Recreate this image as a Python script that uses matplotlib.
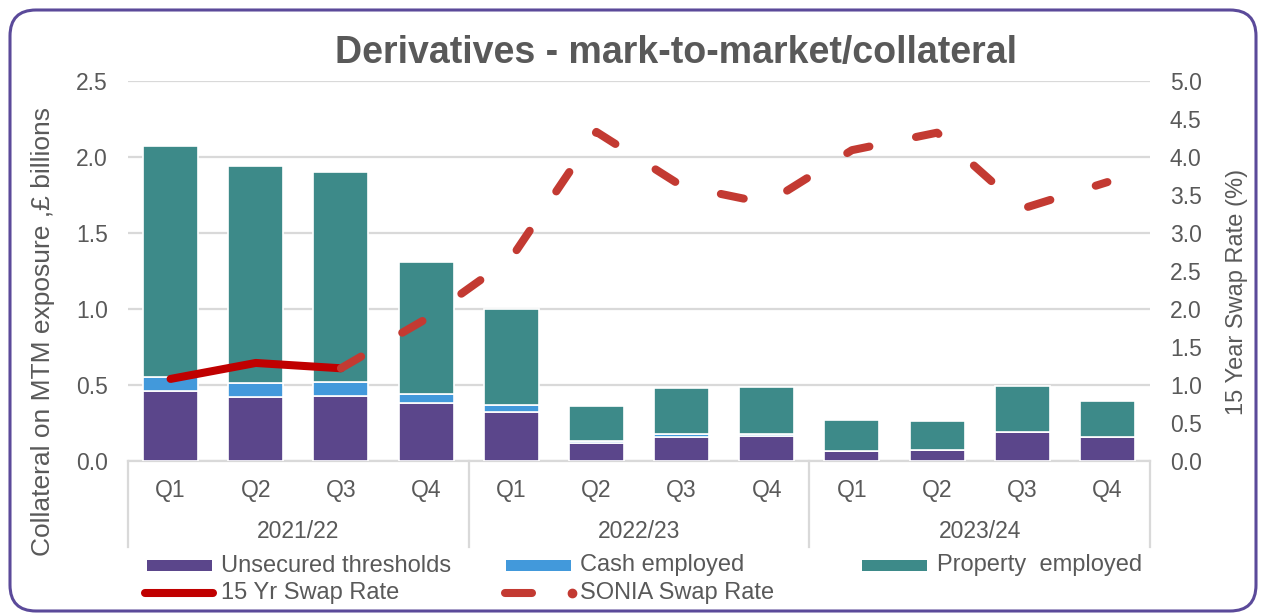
import numpy as np
import matplotlib
matplotlib.use("Agg")
import matplotlib.pyplot as plt
from matplotlib.patches import FancyBboxPatch, Rectangle
from matplotlib.lines import Line2D
from matplotlib.transforms import IdentityTransform, blended_transform_factory

# ---- data -------------------------------------------------------------
quarters = ["Q1", "Q2", "Q3", "Q4"] * 3
years = ["2021/22", "2022/23", "2023/24"]

unsecured = [0.46, 0.42, 0.43, 0.38, 0.32, 0.12, 0.155, 0.165, 0.065, 0.07, 0.19, 0.16]
cash = [0.09, 0.09, 0.09, 0.06, 0.05, 0.01, 0.025, 0.01, 0.0, 0.0, 0.0, 0.0]
prop = [1.52, 1.43, 1.38, 0.87, 0.63, 0.23, 0.30, 0.31, 0.205, 0.195, 0.305, 0.235]

swap15 = [1.08, 1.29, 1.22, np.nan, np.nan, np.nan, np.nan, np.nan, np.nan, np.nan, np.nan, np.nan]
sonia = [np.nan, np.nan, 1.22, 1.87, 2.67, 4.33, 3.62, 3.39, 4.09, 4.32, 3.32, 3.67]

# ---- styling ----------------------------------------------------------
TXT = "#595959"
GRID = "#D9D9D9"
C_UNSEC = "#5B468B"
C_CASH = "#4299DB"
C_PROP = "#3D8A89"
C_SWAP = "#C00000"
C_SONIA = "#C33A32"
C_BORDER = "#5B4A9A"

plt.rcParams["font.family"] = ["Liberation Sans", "DejaVu Sans"]

W, H = 1261, 613
fig = plt.figure(figsize=(W / 100, H / 100), dpi=100)
fig.patch.set_facecolor("white")

def fx(px):
    return px / W

def fy(py):
    return (H - py) / H

ax = fig.add_axes([fx(128), fy(461), fx(1150) - fx(128), fy(81) - fy(461)])
ax2 = ax.twinx()

x = np.arange(len(quarters))
u = np.array(unsecured)
c = np.array(cash)
p = np.array(prop)
bw = 0.645
ax.bar(x, u, bw, color=C_UNSEC, edgecolor="white", linewidth=1.2, zorder=3)
ax.bar(x, c, bw, bottom=u, color=C_CASH, edgecolor="white", linewidth=1.2, zorder=3)
ax.bar(x, p, bw, bottom=u + c, color=C_PROP, edgecolor="white", linewidth=1.2, zorder=3)

ax.set_xlim(-0.5, len(quarters) - 0.5)
ax.set_ylim(0, 2.5)
ax.set_yticks(np.arange(0, 2.51, 0.5))
ax.yaxis.set_major_formatter(matplotlib.ticker.FormatStrFormatter("%.1f"))
ax.grid(axis="y", color=GRID, linewidth=1.6, zorder=0)
ax.set_axisbelow(True)
for s in ["top", "right", "left"]:
    ax.spines[s].set_visible(False)
ax.spines["bottom"].set_color(GRID)
ax.spines["bottom"].set_linewidth(1.6)
ax.tick_params(axis="y", length=0, pad=14.4, labelsize=16.5, labelcolor=TXT)
ax.set_xticks(x)
ax.set_xticklabels([])
ax.tick_params(axis="x", length=0)

ax2.set_ylim(0, 5)
ax2.set_yticks(np.arange(0, 5.01, 0.5))
ax2.yaxis.set_major_formatter(matplotlib.ticker.FormatStrFormatter("%.1f"))
for s in ax2.spines.values():
    s.set_visible(False)
ax2.tick_params(axis="y", length=0, pad=14.4, labelsize=16.5, labelcolor=TXT)

# rate lines
ax2.plot(x, swap15, color=C_SWAP, linewidth=5.8, solid_capstyle="round",
         solid_joinstyle="round", zorder=4)
ax2.plot(x, sonia, color=C_SONIA, linewidth=5.8, dash_capstyle="round",
         dash_joinstyle="round", dashes=(2.9, 5.9), zorder=5)

# two-level category axis
tr = blended_transform_factory(ax.transData, ax.transAxes)
for xi, q in zip(x, quarters):
    ax.text(xi, -29 / 380, q, transform=tr, ha="center", va="center",
            fontsize=16.5, color=TXT)
for i, yr in enumerate(years):
    ax.text(4 * i + 1.5, -71 / 380, yr, transform=tr, ha="center", va="center",
            fontsize=16.5, color=TXT)
for xs in [-0.5, 3.5, 7.5, 11.5]:
    ax.plot([xs, xs], [0, -86 / 380], transform=tr, color=GRID, linewidth=1.6,
            clip_on=False, zorder=1)

# titles and axis labels
fig.text(fx(676), fy(53), "Derivatives - mark-to-market/collateral", ha="center",
         va="center", fontsize=27, fontweight="bold", color=TXT)
fig.text(fx(43), fy(331), "Collateral on MTM exposure ,\u00a3 billions", rotation=90,
         ha="center", va="center", fontsize=19, color=TXT)
fig.text(fx(1237), fy(292), "15 Year Swap Rate (%)", rotation=90,
         ha="center", va="center", fontsize=17, color=TXT)

# legend
def patch_entry(x0, x1, y0, y1, color, label, tx):
    fig.patches.append(Rectangle((fx(x0), fy(y1)), fx(x1) - fx(x0), fy(y0) - fy(y1),
                                 transform=fig.transFigure, facecolor=color,
                                 edgecolor="none"))
    fig.text(fx(tx), fy((y0 + y1) / 2), label, ha="left", va="center",
             fontsize=17, color=TXT)

patch_entry(147, 212, 560, 571, C_UNSEC, "Unsecured thresholds", 221)
patch_entry(506, 571, 560, 571, C_CASH, "Cash employed", 580)
patch_entry(862, 927, 560, 571, C_PROP, "Property  employed", 937)

fig.lines.append(Line2D([fx(145), fx(213)], [fy(593), fy(593)], transform=fig.transFigure,
                        color=C_SWAP, linewidth=5.8, solid_capstyle="round"))
fig.text(fx(221), fy(593), "15 Yr Swap Rate", ha="left", va="center", fontsize=17, color=TXT)
fig.lines.append(Line2D([fx(505), fx(532)], [fy(593), fy(593)], transform=fig.transFigure,
                        color=C_SONIA, linewidth=5.8, solid_capstyle="round"))
fig.lines.append(Line2D([fx(572)], [fy(593)], transform=fig.transFigure, marker="o",
                        markersize=6, color=C_SONIA, linestyle="none"))
fig.text(fx(580), fy(593), "SONIA Swap Rate", ha="left", va="center", fontsize=17, color=TXT)

# rounded frame
frame = FancyBboxPatch((10, H - 611), 1246, 601, boxstyle="round,pad=0,rounding_size=26",
                       transform=IdentityTransform(), facecolor="none",
                       edgecolor=C_BORDER, linewidth=2.2)
fig.patches.append(frame)

fig.savefig("out.png", dpi=100, facecolor="white")
